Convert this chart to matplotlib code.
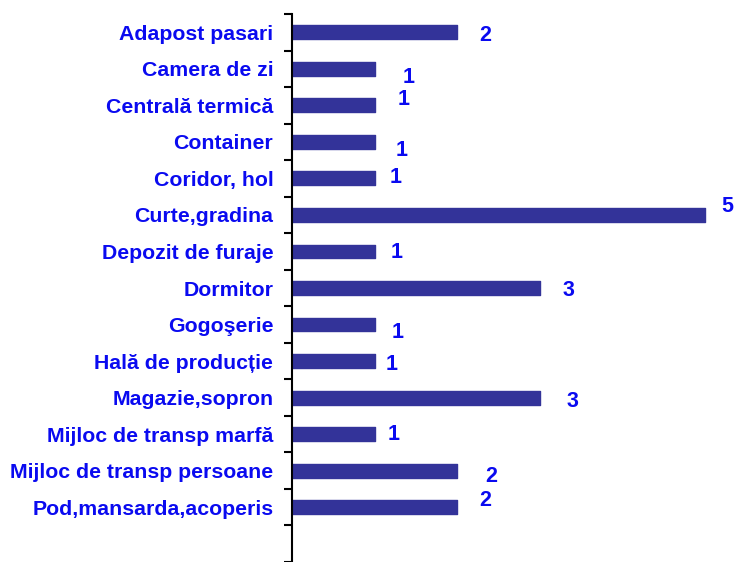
import numpy as np
import matplotlib
matplotlib.use("Agg")
import matplotlib.pyplot as plt

categories = ["Adapost pasari", "Camera de zi", "Centrală termică", "Container",
              "Coridor, hol", "Curte,gradina", "Depozit de furaje", "Dormitor",
              "Gogoşerie", "Hală de producție", "Magazie,sopron",
              "Mijloc de transp marfă", "Mijloc de transp persoane",
              "Pod,mansarda,acoperis"]
values = [2, 1, 1, 1, 1, 5, 1, 3, 1, 1, 3, 1, 2, 2]

# label offsets in pixels (dx right, dy down) to mimic the reference placement
label_dx = [28, 34, 29, 27, 21, 22, 22, 28, 23, 17, 32, 19, 34, 28]
label_dy = [3, 9, -6, 9, -1, -8, 1, 2, 8, 3, 4, 0, 6, -7]

plt.rcParams['font.family'] = ['Liberation Sans', 'DejaVu Sans']
plt.rcParams['font.weight'] = 'bold'

bar_color = "#333399"
text_color = "#0a0af0"

fig = plt.figure(figsize=(7.34, 5.62), dpi=100)
ax = fig.add_axes([292 / 734, 0, 442 / 734, 548 / 562])

y = np.arange(len(categories))
ax.barh(y, values, height=0.38, color=bar_color, edgecolor=bar_color,
        linewidth=1, joinstyle='round')

for i, v in enumerate(values):
    ax.annotate(str(v), xy=(v, i), xytext=(label_dx[i], -label_dy[i]),
                textcoords='offset pixels', ha='center', va='center',
                color=text_color, fontsize=15.5, fontweight='bold')

ax.set_ylim(14.38, -0.5)
ax.set_xlim(0, 5.345)

ax.set_yticks(y)
ax.set_yticklabels(categories, color=text_color, fontsize=15.3, fontweight='bold')
ax.set_yticks(np.arange(-0.5, len(categories) + 1), minor=True)
ax.tick_params(axis='y', which='major', length=0, pad=13.5)
ax.tick_params(axis='y', which='minor', length=6, width=1.5, direction='out')
ax.set_xticks([])

for s in ['top', 'right', 'bottom']:
    ax.spines[s].set_visible(False)
ax.spines['left'].set_linewidth(1.5)

fig.savefig("out.png", dpi=100)
